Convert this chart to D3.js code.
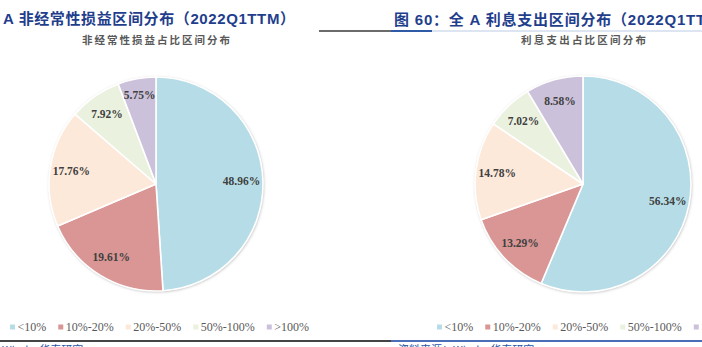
<!DOCTYPE html>
<html>
<head>
<meta charset="utf-8">
<script src="https://cdn.jsdelivr.net/npm/d3@7/dist/d3.min.js"></script>
<style>
  html, body { margin: 0; padding: 0; background: #fff; }
  svg { display: block; }
</style>
</head>
<body>
<svg id="chart" width="702" height="347"></svg>
<script>
// Distribution buckets shared by both pies
const categories = ["<10%", "10%-20%", "20%-50%", "50%-100%", ">100%"];
// Share of companies per bucket (%)
const nonRecurringShares = [48.96, 19.61, 17.76, 7.92, 5.75];
const interestShares = [56.34, 13.29, 14.78, 7.02, 8.58];

const leftTitle = "A 非经常性损益区间分布（2022Q1TTM）";
const rightTitle = "图 60：全 A 利息支出区间分布（2022Q1TTM）";
const leftSubtitle = "非经常性损益占比区间分布";
const rightSubtitle = "利息支出占比区间分布";
const leftSource = "Wind，华泰研究";
const rightSource = "资料来源：Wind，华泰研究";

const palette = ["#b6dde7", "#d99694", "#fde9da", "#ebf1df", "#ccc1da"];

const svg = d3.select("#chart");
const color = d3.scaleOrdinal().domain(categories).range(palette);

const defs = svg.append("defs");
const shadow = defs.append("filter").attr("id", "pieShadow")
  .attr("x", "-10%").attr("y", "-10%").attr("width", "120%").attr("height", "120%");
shadow.append("feDropShadow")
  .attr("dx", 0.6).attr("dy", 0.8).attr("stdDeviation", 1.4)
  .attr("flood-color", "#000").attr("flood-opacity", 0.32);

const sansFont = "'Liberation Sans', Arial, 'Noto Sans CJK SC', sans-serif";
const cjkFont = "'Noto Sans CJK SC', sans-serif";
const serifFont = "'Liberation Serif', 'Times New Roman', serif";

// Section titles
svg.append("text").attr("x", 3).attr("y", 24)
  .attr("textLength", 292).attr("lengthAdjust", "spacing")
  .attr("font-family", sansFont).attr("font-weight", "bold")
  .attr("font-size", 15).attr("fill", "#1f3e8c").text(leftTitle);

svg.append("text").attr("x", 394).attr("y", 25)
  .attr("letter-spacing", 0.8)
  .attr("font-family", sansFont).attr("font-weight", "bold")
  .attr("font-size", 15).attr("fill", "#1f3e8c").text(rightTitle);

// Rule under the right title
svg.append("line").attr("x1", 319).attr("x2", 391).attr("y1", 31).attr("y2", 31)
  .attr("stroke", "#3a3a3a").attr("stroke-width", 1.5);
svg.append("line").attr("x1", 391).attr("x2", 432).attr("y1", 31).attr("y2", 31)
  .attr("stroke", "#2f5aa8").attr("stroke-width", 2);
svg.append("line").attr("x1", 432).attr("x2", 702).attr("y1", 31).attr("y2", 31)
  .attr("stroke", "#a9bde0").attr("stroke-width", 0.8);

// Bottom rules and source notes
svg.append("line").attr("x1", 0).attr("x2", 391).attr("y1", 341).attr("y2", 341)
  .attr("stroke", "#444").attr("stroke-width", 2.2);
svg.append("line").attr("x1", 391).attr("x2", 702).attr("y1", 341).attr("y2", 341)
  .attr("stroke", "#4a6fb8").attr("stroke-width", 2.2);
svg.append("text").attr("x", 2).attr("y", 354)
  .attr("font-family", cjkFont).attr("font-size", 11).attr("fill", "#2a55a8").text(leftSource);
svg.append("text").attr("x", 398).attr("y", 354)
  .attr("font-family", cjkFont).attr("font-size", 11).attr("fill", "#2a55a8").text(rightSource);

function drawPie(cfg) {
  const g = svg.append("g");

  g.append("text").attr("x", cfg.subX).attr("y", 44)
    .attr("textLength", cfg.subLen).attr("lengthAdjust", "spacing")
    .attr("font-family", cjkFont).attr("font-weight", "bold")
    .attr("font-size", 10.5).attr("fill", "#595959").text(cfg.subtitle);

  const pie = d3.pie().sort(null).value(d => d.value);
  const arcs = pie(categories.map((c, i) => ({ cat: c, value: cfg.values[i] })));
  const arc = d3.arc().innerRadius(0).outerRadius(cfg.r);
  // Thin slices get their labels pushed a little further out
  const labelR = d => cfg.r * (d.endAngle - d.startAngle < 0.4 ? 0.85 : 0.8);

  const pg = g.append("g").attr("transform", `translate(${cfg.cx},${cfg.cy})`);
  pg.append("circle").attr("r", cfg.r).attr("fill", "#fff").attr("filter", "url(#pieShadow)");
  pg.selectAll("path.slice").data(arcs).join("path")
    .attr("class", "slice")
    .attr("d", arc)
    .attr("fill", d => color(d.data.cat))
    .attr("stroke", "#fff").attr("stroke-width", 1.6).attr("stroke-linejoin", "round");

  pg.selectAll("text.value").data(arcs).join("text")
    .attr("class", "value")
    .attr("transform", d => {
      const r = labelR(d);
      return `translate(${d3.arc().innerRadius(r).outerRadius(r).centroid(d)})`;
    })
    .attr("text-anchor", "middle").attr("dy", "0.35em")
    .attr("font-family", serifFont).attr("font-weight", "bold")
    .attr("font-size", 11.5).attr("fill", "#404040")
    .text(d => d.data.value.toFixed(2) + "%");

  // Legend laid out left to right from measured label widths
  const lg = g.append("g").attr("transform", `translate(${cfg.legendX},327)`);
  let x = 0;
  categories.forEach(c => {
    const item = lg.append("g").attr("transform", `translate(${x},0)`);
    item.append("rect").attr("x", 0).attr("y", -2.5).attr("width", 5).attr("height", 5)
      .attr("fill", color(c));
    const t = item.append("text").attr("x", 7.5).attr("y", 4)
      .attr("font-family", serifFont).attr("font-size", 12).attr("fill", "#595959").text(c);
    x += 7.5 + t.node().getComputedTextLength() + 12;
  });
}

drawPie({ cx: 156, cy: 184, r: 107, values: nonRecurringShares,
  subtitle: leftSubtitle, subX: 82, subLen: 148, legendX: 10 });
drawPie({ cx: 583, cy: 184, r: 108, values: interestShares,
  subtitle: rightSubtitle, subX: 521, subLen: 125, legendX: 437 });
</script>
</body>
</html>
